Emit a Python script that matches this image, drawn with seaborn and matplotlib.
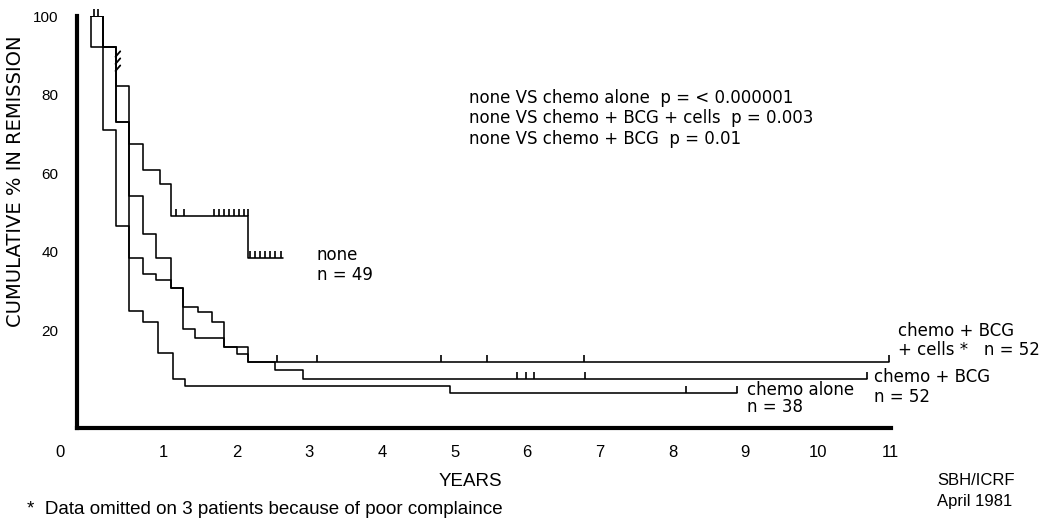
import numpy as np
import pandas as pd
import matplotlib
matplotlib.use("Agg")
import matplotlib.pyplot as plt
import seaborn as sns

# Actuarial remission curves: years at which each curve steps down and the
# cumulative % still in remission after that step (all start at 100 %).
none_t = [0.0, 0.337, 0.527, 0.719, 0.949, 1.096, 2.166]
none_pct = [92.3, 82.3, 67.5, 60.9, 57.3, 49.2, 38.5]
none_end = 2.637

alone_t = [0.169, 0.337, 0.527, 0.719, 0.926, 1.124, 1.293, 4.938]
alone_pct = [71.1, 46.6, 24.8, 22.2, 14.1, 7.7, 5.8, 4.0]
alone_end = 8.882

bcg_t = [0.169, 0.337, 0.527, 0.719, 0.890, 1.096, 1.270, 1.476, 1.660,
         1.829, 2.166, 2.531, 2.912]
bcg_pct = [92.3, 73.2, 54.2, 44.5, 38.4, 30.9, 26.0, 24.6, 22.2,
           15.8, 12.0, 9.9, 7.5]
bcg_end = 10.67

cells_t = [0.169, 0.337, 0.527, 0.719, 0.894, 1.096, 1.270, 1.431, 1.829,
           2.004, 2.166]
cells_pct = [92.3, 73.2, 38.5, 34.4, 32.7, 30.9, 20.3, 18.0, 15.8, 14.0, 12.0]
cells_end = 10.97

# Patients still in remission at last follow-up (years)
none_cens = [1.165, 1.279, 1.692, 1.761, 1.829, 1.898, 1.967, 2.036, 2.104,
             2.160, 2.187, 2.256, 2.325, 2.393, 2.462, 2.531, 2.609]
none_slash_pct = [89.7, 87.9, 86.1]   # censorings marked on the first drop
alone_cens = [8.184, 8.882]
bcg_cens = [5.856, 5.979, 6.098, 6.795, 10.67]
cells_cens = [0.045, 0.100, 2.554, 3.105, 4.810, 5.443, 6.781, 10.97]

x_ticks = list(range(1, 12))
y_ticks = [20, 40, 60, 80, 100]

p_lines = ["none VS chemo alone  p = < 0.000001",
           "none VS chemo + BCG + cells  p = 0.003",
           "none VS chemo + BCG  p = 0.01"]

sns.set_style("white")
plt.rcParams["font.family"] = ["DejaVu Sans"]
plt.rcParams["text.color"] = "black"
plt.rcParams["axes.labelcolor"] = "black"
narrow = ["Liberation Sans Narrow", "DejaVu Sans Condensed", "Liberation Sans"]

W, H = 1040, 522
def fx(px):
    return px / W
def fy(py):
    return 1 - py / H

fig = plt.figure(figsize=(W / 100, H / 100), dpi=100)
ax = fig.add_axes([fx(77), 94 / H, (890.7 - 77) / W, (428 - 16.4) / H])
ax.set_xlim(-0.193, 11.0)
ax.set_ylim(-4.9, 100)

curves = [("none", none_t, none_pct, none_end),
          ("chemo alone", alone_t, alone_pct, alone_end),
          ("chemo + BCG", bcg_t, bcg_pct, bcg_end),
          ("chemo + BCG + cells", cells_t, cells_pct, cells_end)]

rows = []
for name, ts, ps, end in curves:
    xs = [0.0] + list(ts) + [end]
    ys = [100.0] + list(ps) + [ps[-1]]
    for x, y in zip(xs, ys):
        rows.append({"group": name, "years": x, "pct": y})
df = pd.DataFrame(rows)

sns.lineplot(data=df, x="years", y="pct", units="group", estimator=None,
             sort=False, color="black", linewidth=1.15,
             drawstyle="steps-post", legend=False, ax=ax)


def level(ts, ps, t):
    i = np.searchsorted(ts, t, side="right") - 1
    return 100.0 if i < 0 else ps[i]

tick_h = 1.8
for (name, ts, ps, end), cens in zip(curves, [none_cens, alone_cens, bcg_cens, cells_cens]):
    lv = np.array([level(ts, ps, c) for c in cens])
    ax.vlines(cens, lv, lv + tick_h, color="black", lw=1.2, clip_on=False)

t0 = none_t[1]
for v in none_slash_pct:
    ax.plot([t0, t0 + 0.065], [v, v + 1.4], color="black", lw=1.3)

# axes styling
for s in ("top", "right"):
    ax.spines[s].set_visible(False)
for s in ("left", "bottom"):
    ax.spines[s].set_linewidth(3.0)
    ax.spines[s].set_color("black")

ax.set_xticks(x_ticks, labels=[str(v) for v in x_ticks],
              fontfamily=narrow, fontsize=12)
ax.set_yticks(y_ticks, labels=[str(v) for v in y_ticks],
              fontfamily=["Liberation Sans"], fontsize=11)
ax.tick_params(axis="x", direction="in", length=5, width=1.2, pad=12,
               color="black", labelcolor="black")
ax.tick_params(axis="y", direction="in", length=5, width=1.8, pad=13.5,
               color="black", labelcolor="black")
ax.set_xlabel("")
ax.set_ylabel("")

# origin label sits at the corner, left of the vertical axis
fig.text(fx(60), fy(428 + 12 * 100 / 72), "0", ha="center", va="top",
         fontfamily=narrow, fontsize=12)

fig.text(fx(16), fy(181), "CUMULATIVE % IN REMISSION", rotation=90,
         ha="center", va="center", fontsize=14)
fig.text(fx(470), fy(486), "YEARS", ha="center", va="baseline",
         fontfamily=narrow, fontsize=13.5)
fig.text(fx(937), fy(485), "SBH/ICRF", ha="left", va="baseline",
         fontfamily=narrow, fontsize=12)
fig.text(fx(937), fy(506), "April 1981", ha="left", va="baseline",
         fontfamily=narrow, fontsize=12)
fig.text(fx(27), fy(514), "*  Data omitted on 3 patients because of poor complaince",
         ha="left", va="baseline", fontfamily=narrow, fontsize=13.5)

for i, line in enumerate(p_lines):
    fig.text(fx(469), fy(103 + 20.3 * i), line, ha="left", va="baseline",
             fontsize=12)

lab = dict(ha="left", va="baseline", fontsize=12)
fig.text(fx(317), fy(260.5), "none", **lab)
fig.text(fx(317), fy(280), "n = 49", **lab)
fig.text(fx(898), fy(336.5), "chemo + BCG", **lab)
fig.text(fx(898), fy(355), "+ cells *   n = 52", **lab)
fig.text(fx(874), fy(382), "chemo + BCG", **lab)
fig.text(fx(874), fy(401.5), "n = 52", **lab)
# two tightly stacked lines under the end of the chemo-alone curve
fig.text(fx(747), fy(412), "chemo alone\nn = 38", ha="left", va="baseline",
         fontsize=12, linespacing=0.95)

fig.savefig("out.png", dpi=100)
